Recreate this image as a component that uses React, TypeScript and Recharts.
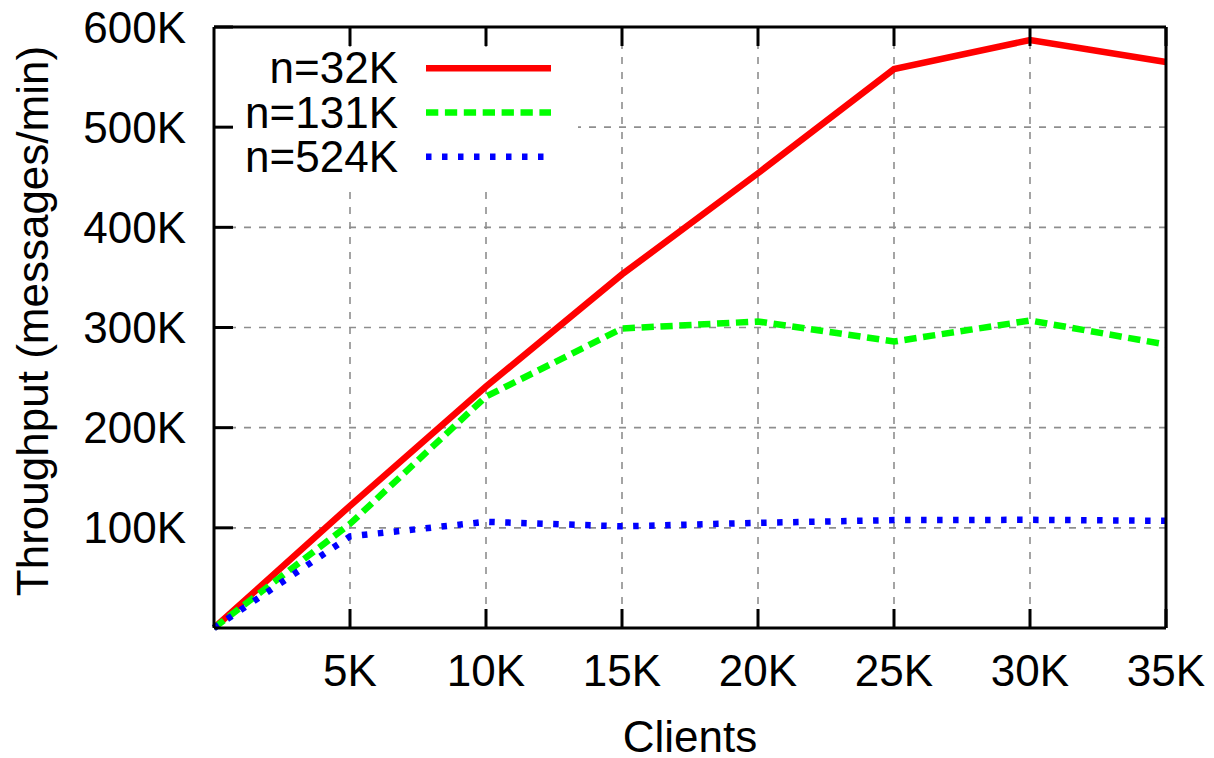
import React from 'react';
import { LineChart, Line, XAxis, YAxis, CartesianGrid, Legend, Label } from 'recharts';

const clients = [0, 5000, 10000, 15000, 20000, 25000, 30000, 35000];
const n32K = [0, 122000, 241000, 353000, 454000, 558000, 587000, 565000];
const n131K = [0, 104000, 231000, 299000, 306000, 286000, 307000, 283000];
const n524K = [0, 91500, 106000, 101500, 105000, 107700, 108000, 107000];

const xTicks = [5000, 10000, 15000, 20000, 25000, 30000, 35000];
const yTicks = [100000, 200000, 300000, 400000, 500000, 600000];
const seriesNames = ['n=32K', 'n=131K', 'n=524K'];
const seriesKeys = ['a', 'b', 'c'];
const seriesColors = ['#ff0000', '#00ff00', '#0000ff'];
const seriesDash = ['', '12.3 6.6', '5.5 10.5'];

const data = clients.map((c, i) => ({ x: c, a: n32K[i], b: n131K[i], c: n524K[i] }));

const FONT = '"Liberation Sans", Arial, Helvetica, sans-serif';
const fmtK = (v: number) => `${Math.round(v / 1000)}K`;
const TICK_LEN = 19;
const X_MARGIN = 27;
const Y_MARGIN = 28;
const TC = '#000';

const BottomTick = (props: any) => {
  const { x, y, payload } = props;
  const axisY = y - X_MARGIN;
  return (
    <g>
      <line x1={x} x2={x} y1={axisY} y2={axisY - TICK_LEN} stroke={TC} strokeWidth={3} />
      <text x={x} y={y} dy="0.71em" textAnchor="middle" fontSize={44} fontFamily={FONT} fill="#000">
        {fmtK(payload.value)}
      </text>
    </g>
  );
};

const TopTick = (props: any) => {
  const { x, y } = props;
  return <line x1={x} x2={x} y1={y} y2={y + TICK_LEN} stroke={TC} strokeWidth={3} />;
};

const LeftTick = (props: any) => {
  const { x, y, payload } = props;
  const axisX = x + Y_MARGIN;
  return (
    <g>
      <line x1={axisX} x2={axisX + TICK_LEN} y1={y} y2={y} stroke={TC} strokeWidth={3} />
      <text x={x} y={y} dy="0.355em" textAnchor="end" fontSize={44} fontFamily={FONT} fill="#000">
        {fmtK(payload.value)}
      </text>
    </g>
  );
};

const RightTick = (props: any) => {
  const { x, y } = props;
  return <line x1={x} x2={x - TICK_LEN} y1={y} y2={y} stroke={TC} strokeWidth={3} />;
};

const LegendBox = () => (
  <svg width={345} height={138} style={{ display: 'block', background: '#fff', overflow: 'visible' }}>
    {seriesNames.map((name, i) => {
      const cy = 21.3 + i * 44.2;
      return (
        <g key={name}>
          <text x={165} y={cy + 15} textAnchor="end" fontSize={44} fontFamily={FONT} fill="#000">
            {name}
          </text>
          <line
            x1={193}
            x2={318}
            y1={cy}
            y2={cy}
            stroke={seriesColors[i]}
            strokeWidth={6.5}
            strokeDasharray={seriesDash[i] || undefined}
          />
        </g>
      );
    })}
  </svg>
);

export default function App() {
  const axisLine = { stroke: '#000', strokeWidth: 3 };
  return (
    <div style={{ position: 'absolute', left: 0, top: 0, width: 1214, height: 758, background: '#fff' }}>
      <LineChart
        width={1214}
        height={758}
        data={data}
        margin={{ top: 0, right: 0, bottom: 0, left: 0 }}
        style={{ fontFamily: FONT }}
      >
        <CartesianGrid stroke="#8e8e8e" strokeWidth={1.6} strokeDasharray="7 8" />
        <XAxis
          dataKey="x"
          type="number"
          domain={[0, 35000]}
          ticks={xTicks}
          height={130}
          tick={<BottomTick />}
          tickSize={0}
          tickMargin={X_MARGIN}
          axisLine={axisLine}
          tickLine={false}
          interval={0}
        >
          <Label
            content={() => (
              <text x={690} y={752} textAnchor="middle" fontSize={44} fontFamily={FONT} fill="#000">
                Clients
              </text>
            )}
          />
        </XAxis>
        <XAxis
          xAxisId="top"
          orientation="top"
          dataKey="x"
          type="number"
          domain={[0, 35000]}
          ticks={xTicks}
          height={27}
          tick={<TopTick />}
          tickSize={0}
          tickMargin={0}
          axisLine={axisLine}
          tickLine={false}
          interval={0}
        />
        <YAxis
          type="number"
          domain={[0, 600000]}
          ticks={yTicks}
          width={214}
          tick={<LeftTick />}
          tickSize={0}
          tickMargin={Y_MARGIN}
          axisLine={axisLine}
          tickLine={false}
          interval={0}
        >
          <Label
            content={() => (
              <text
                x={48}
                y={321}
                transform="rotate(-90 48 321)"
                textAnchor="middle"
                fontSize={44}
                fontFamily={FONT}
                fill="#000"
              >
                Throughput (messages/min)
              </text>
            )}
          />
        </YAxis>
        <YAxis
          yAxisId="right"
          orientation="right"
          type="number"
          domain={[0, 600000]}
          ticks={yTicks}
          width={48}
          tick={<RightTick />}
          tickSize={0}
          tickMargin={0}
          axisLine={axisLine}
          tickLine={false}
          interval={0}
        />
        {seriesKeys.map((k, i) => (
          <Line
            key={k}
            type="linear"
            dataKey={k}
            name={seriesNames[i]}
            stroke={seriesColors[i]}
            strokeWidth={6.5}
            strokeDasharray={seriesDash[i] || undefined}
            dot={false}
            activeDot={false}
            isAnimationActive={false}
          />
        ))}
        <Legend
          layout="vertical"
          align="center"
          verticalAlign="middle"
          content={() => <LegendBox />}
          wrapperStyle={{ left: 233, top: 47, width: 345, height: 138, right: 'auto', bottom: 'auto' }}
        />
      </LineChart>
    </div>
  );
}
